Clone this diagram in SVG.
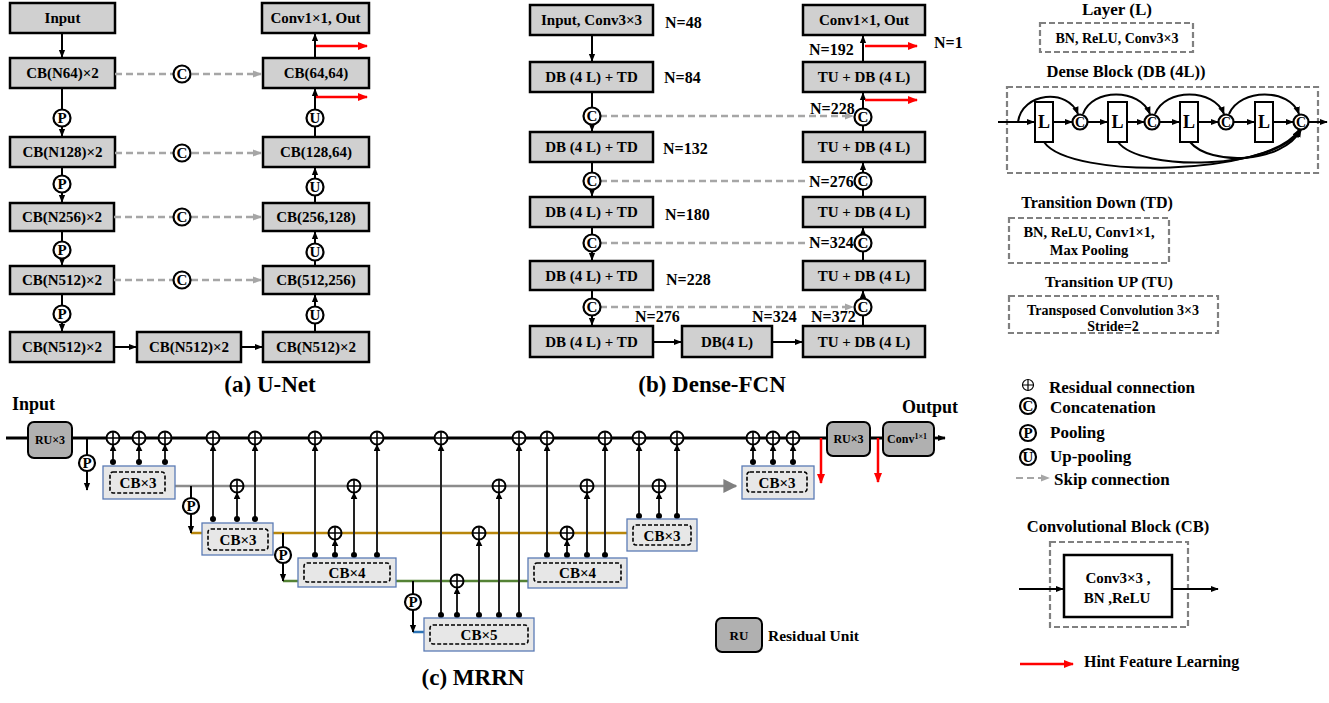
<svg xmlns="http://www.w3.org/2000/svg" width="1329" height="703" viewBox="0 0 1329 703">
<style>
text{font-family:"Liberation Serif","Times New Roman",serif;font-weight:bold;fill:#000}
.bx{fill:#d0d0d0;stroke:#000;stroke-width:2.5}
.c15{font-size:15px;text-anchor:middle}
.n{font-size:16px}
.ln{stroke:#000;stroke-width:2;fill:none}
.sk{stroke:#a6a6a6;stroke-width:2.5;stroke-dasharray:7 4;fill:none}
.ci{fill:#fff;stroke:#000;stroke-width:2.2}
.cl{font-size:15px;text-anchor:middle}
.rd{stroke:#f00;stroke-width:2.5;fill:none}
.cb{fill:#e7e7e7;stroke:#5b7bb5;stroke-width:1.3}
.cbi{fill:none;stroke:#000;stroke-width:1.6;stroke-dasharray:4 2}
.ru{fill:#b0b0b0;stroke:#000;stroke-width:2}
.dg{fill:none;stroke:#808080;stroke-width:2.2;stroke-dasharray:6 3}
.vl{stroke:#222;stroke-width:2;fill:none}
.cap{font-size:23px;text-anchor:middle}
.lg{font-size:17px}
.m{text-anchor:middle}
</style>
<defs>
<marker id="a" viewBox="0 0 10 10" refX="9" refY="5" markerWidth="8" markerHeight="8" markerUnits="userSpaceOnUse" orient="auto"><path d="M0,1L10,5L0,9z" fill="#000"/></marker>
<marker id="ag" viewBox="0 0 10 10" refX="9" refY="5" markerWidth="9" markerHeight="9" markerUnits="userSpaceOnUse" orient="auto"><path d="M0,1L10,5L0,9z" fill="#a6a6a6"/></marker>
<marker id="ar" viewBox="0 0 10 10" refX="9" refY="5" markerWidth="10" markerHeight="10" markerUnits="userSpaceOnUse" orient="auto"><path d="M0,1L10,5L0,9z" fill="#f00"/></marker>
<marker id="agr" viewBox="0 0 10 10" refX="9" refY="5" markerWidth="14" markerHeight="14" markerUnits="userSpaceOnUse" orient="auto"><path d="M0,0L10,5L0,10z" fill="#808080"/></marker>
<marker id="as" viewBox="0 0 10 10" refX="9" refY="5" markerWidth="7" markerHeight="7" markerUnits="userSpaceOnUse" orient="auto"><path d="M0,0L10,5L0,10z" fill="#000"/></marker>
<g id="pl"><circle r="6.5" fill="#fff" stroke="#000" stroke-width="2"/><path d="M-6.5,0H6.5M0,-6.5V6.5" stroke="#000" stroke-width="1.6"/></g>
</defs>

<!-- ========== (a) U-Net ========== -->
<g id="unet-input"><rect class="bx" x="10" y="3" width="105" height="30"/><text class="c15" x="62.5" y="23">Input</text></g>
<g id="unet-out"><rect class="bx" x="262" y="3" width="107" height="30"/><text class="c15" x="315.5" y="23">Conv1×1, Out</text></g>
<g id="unet-e1"><rect class="bx" x="10" y="58" width="105" height="30"/><text class="c15" x="62.5" y="78">CB(N64)×2</text></g>
<g id="unet-d1"><rect class="bx" x="263" y="58" width="106" height="30"/><text class="c15" x="316" y="78">CB(64,64)</text></g>
<g id="unet-e2"><rect class="bx" x="10" y="137" width="105" height="30"/><text class="c15" x="62.5" y="157">CB(N128)×2</text></g>
<g id="unet-d2"><rect class="bx" x="263" y="137" width="106" height="30"/><text class="c15" x="316" y="157">CB(128,64)</text></g>
<g id="unet-e3"><rect class="bx" x="10" y="203" width="104" height="28"/><text class="c15" x="62" y="222">CB(N256)×2</text></g>
<g id="unet-d3"><rect class="bx" x="263" y="203" width="106" height="28"/><text class="c15" x="316" y="222">CB(256,128)</text></g>
<g id="unet-e4"><rect class="bx" x="10" y="266" width="104" height="28"/><text class="c15" x="62" y="285">CB(N512)×2</text></g>
<g id="unet-d4"><rect class="bx" x="263" y="266" width="106" height="28"/><text class="c15" x="316" y="285">CB(512,256)</text></g>
<g id="unet-b1"><rect class="bx" x="10" y="332" width="104" height="30"/><text class="c15" x="62" y="352">CB(N512)×2</text></g>
<g id="unet-b2"><rect class="bx" x="137" y="332" width="104" height="30"/><text class="c15" x="189" y="352">CB(N512)×2</text></g>
<g id="unet-b3"><rect class="bx" x="263" y="332" width="106" height="30"/><text class="c15" x="316" y="352">CB(N512)×2</text></g>

<g id="unet-connectors">
<path class="ln" d="M62,33V57" marker-end="url(#a)"/>
<path class="ln" d="M62,88V110"/>
<path class="ln" d="M62,127V136" marker-end="url(#a)"/>
<path class="ln" d="M62,167V176"/><path class="ln" d="M62,193V202" marker-end="url(#a)"/>
<path class="ln" d="M62,231V242"/><path class="ln" d="M62,259V265" marker-end="url(#a)"/>
<path class="ln" d="M62,294V306"/><path class="ln" d="M62,323V331" marker-end="url(#a)"/>
<path class="ln" d="M114,347H136" marker-end="url(#a)"/>
<path class="ln" d="M241,347H262" marker-end="url(#a)"/>
<path class="ln" d="M315,332V324"/><path class="ln" d="M315,306V295" marker-end="url(#a)"/>
<path class="ln" d="M315,266V261"/><path class="ln" d="M315,243V232" marker-end="url(#a)"/>
<path class="ln" d="M315,203V196"/><path class="ln" d="M315,178V168" marker-end="url(#a)"/>
<path class="ln" d="M315,137V127"/><path class="ln" d="M315,109V89" marker-end="url(#a)"/>
<path class="ln" d="M315,58V34" marker-end="url(#a)"/>
<path class="sk" d="M115,74H261" marker-end="url(#ag)"/>
<path class="sk" d="M115,153H261" marker-end="url(#ag)"/>
<path class="sk" d="M114,217H261" marker-end="url(#ag)"/>
<path class="sk" d="M114,280H261" marker-end="url(#ag)"/>
<path class="rd" d="M316,46H367" marker-end="url(#ar)"/>
<path class="rd" d="M316,97H367" marker-end="url(#ar)"/>
</g>
<g id="unet-ops">
<circle class="ci" cx="62" cy="118" r="8.5"/><text class="cl" x="62" y="123">P</text>
<circle class="ci" cx="62" cy="184" r="8.5"/><text class="cl" x="62" y="189">P</text>
<circle class="ci" cx="62" cy="250" r="8.5"/><text class="cl" x="62" y="255">P</text>
<circle class="ci" cx="62" cy="314" r="8.5"/><text class="cl" x="62" y="319">P</text>
<circle class="ci" cx="315" cy="118" r="8.5"/><text class="cl" x="315" y="123">U</text>
<circle class="ci" cx="315" cy="187" r="8.5"/><text class="cl" x="315" y="192">U</text>
<circle class="ci" cx="315" cy="252" r="8.5"/><text class="cl" x="315" y="257">U</text>
<circle class="ci" cx="315" cy="315" r="8.5"/><text class="cl" x="315" y="320">U</text>
<circle class="ci" cx="182" cy="74" r="8.5"/><text class="cl" x="182" y="79">C</text>
<circle class="ci" cx="182" cy="153" r="8.5"/><text class="cl" x="182" y="158">C</text>
<circle class="ci" cx="182" cy="217" r="8.5"/><text class="cl" x="182" y="222">C</text>
<circle class="ci" cx="182" cy="280" r="8.5"/><text class="cl" x="182" y="285">C</text>
</g>
<text class="cap" x="270" y="392">(a) U-Net</text>

<!-- ========== (b) Dense-FCN ========== -->
<g id="dfcn-input"><rect class="bx" x="530" y="5" width="123" height="30"/><text class="c15" x="591.5" y="25">Input, Conv3×3</text></g>
<g id="dfcn-out"><rect class="bx" x="803" y="5" width="122" height="30"/><text class="c15" x="864" y="25">Conv1×1, Out</text></g>
<g id="dfcn-e1"><rect class="bx" x="530" y="62" width="123" height="30"/><text class="c15" x="591.5" y="82">DB (4 L) + TD</text></g>
<g id="dfcn-e2"><rect class="bx" x="530" y="132" width="123" height="30"/><text class="c15" x="591.5" y="152">DB (4 L) + TD</text></g>
<g id="dfcn-e3"><rect class="bx" x="530" y="197" width="123" height="30"/><text class="c15" x="591.5" y="217">DB (4 L) + TD</text></g>
<g id="dfcn-e4"><rect class="bx" x="530" y="261" width="123" height="29"/><text class="c15" x="591.5" y="280.5">DB (4 L) + TD</text></g>
<g id="dfcn-e5"><rect class="bx" x="530" y="326" width="123" height="31"/><text class="c15" x="591.5" y="346.5">DB (4 L) + TD</text></g>
<g id="dfcn-mid"><rect class="bx" x="682" y="326" width="90" height="31"/><text class="c15" x="727" y="346.5">DB(4 L)</text></g>
<g id="dfcn-d1"><rect class="bx" x="803" y="62" width="122" height="30"/><text class="c15" x="864" y="82">TU + DB (4 L)</text></g>
<g id="dfcn-d2"><rect class="bx" x="803" y="132" width="122" height="30"/><text class="c15" x="864" y="152">TU + DB (4 L)</text></g>
<g id="dfcn-d3"><rect class="bx" x="803" y="197" width="122" height="30"/><text class="c15" x="864" y="217">TU + DB (4 L)</text></g>
<g id="dfcn-d4"><rect class="bx" x="803" y="261" width="122" height="29"/><text class="c15" x="864" y="280.5">TU + DB (4 L)</text></g>
<g id="dfcn-d5"><rect class="bx" x="803" y="326" width="122" height="31"/><text class="c15" x="864" y="346.5">TU + DB (4 L)</text></g>

<g id="dfcn-connectors">
<path class="ln" d="M592,35V61" marker-end="url(#a)"/>
<path class="ln" d="M592,92V108"/><path class="ln" d="M592,125V131" marker-end="url(#a)"/>
<path class="ln" d="M592,162V173"/><path class="ln" d="M592,190V196" marker-end="url(#a)"/>
<path class="ln" d="M592,227V235"/><path class="ln" d="M592,252V260" marker-end="url(#a)"/>
<path class="ln" d="M592,290V299"/><path class="ln" d="M592,316V325" marker-end="url(#a)"/>
<path class="ln" d="M653,342H681" marker-end="url(#a)"/>
<path class="ln" d="M772,342H802" marker-end="url(#a)"/>
<path class="ln" d="M863,326V316"/><path class="ln" d="M863,299V291" marker-end="url(#a)"/>
<path class="ln" d="M863,261V252"/><path class="ln" d="M863,235V228" marker-end="url(#a)"/>
<path class="ln" d="M863,197V190"/><path class="ln" d="M863,173V163" marker-end="url(#a)"/>
<path class="ln" d="M863,132V126"/><path class="ln" d="M863,109V93" marker-end="url(#a)"/>
<path class="ln" d="M863,62V36" marker-end="url(#a)"/>
<path class="sk" d="M600,116H853" marker-end="url(#ag)"/>
<path class="sk" d="M600,181H808"/>
<path class="sk" d="M600,243H808"/>
<path class="sk" d="M600,307H853" marker-end="url(#ag)"/>
<path class="rd" d="M865,46H917" marker-end="url(#ar)"/>
<path class="rd" d="M865,100H917" marker-end="url(#ar)"/>
</g>
<g id="dfcn-ops">
<circle class="ci" cx="592" cy="116" r="8.5"/><text class="cl" x="592" y="121">C</text>
<circle class="ci" cx="592" cy="181" r="8.5"/><text class="cl" x="592" y="186">C</text>
<circle class="ci" cx="592" cy="243" r="8.5"/><text class="cl" x="592" y="248">C</text>
<circle class="ci" cx="592" cy="307" r="8.5"/><text class="cl" x="592" y="312">C</text>
<circle class="ci" cx="863" cy="117" r="8.5"/><text class="cl" x="863" y="122">C</text>
<circle class="ci" cx="863" cy="181" r="8.5"/><text class="cl" x="863" y="186">C</text>
<circle class="ci" cx="863" cy="243" r="8.5"/><text class="cl" x="863" y="248">C</text>
<circle class="ci" cx="863" cy="307" r="8.5"/><text class="cl" x="863" y="312">C</text>
</g>
<g id="dfcn-labels">
<text class="n" x="665" y="28">N=48</text>
<text class="n" x="664" y="83">N=84</text>
<text class="n" x="663" y="154">N=132</text>
<text class="n" x="665" y="220">N=180</text>
<text class="n" x="666" y="285">N=228</text>
<text class="n" x="635" y="322">N=276</text>
<text class="n" x="752" y="322">N=324</text>
<text class="n" x="811" y="322">N=372</text>
<text class="n" x="809" y="248">N=324</text>
<text class="n" x="809" y="187">N=276</text>
<text class="n" x="810" y="114">N=228</text>
<text class="n" x="809" y="55">N=192</text>
<text class="n" x="934" y="48">N=1</text>
</g>
<text class="cap" x="712" y="392">(b) Dense-FCN</text>

<!-- ========== Right legends (L, DB, TD, TU) ========== -->
<g id="leg-layer">
<text class="m" x="1117" y="15" style="font-size:17px">Layer (L)</text>
<rect class="dg" x="1040" y="23" width="153" height="29"/>
<text class="m" x="1117" y="43" style="font-size:14px">BN, ReLU, Conv3×3</text>
</g>
<g id="leg-db">
<text class="m" x="1126" y="77" style="font-size:16.5px">Dense Block (DB (4L))</text>
<rect class="dg" x="1007" y="87" width="311" height="86"/>
<path class="ln" d="M998,122H1034" marker-end="url(#a)"/>
<rect x="1035" y="102" width="18" height="40" fill="#fff" stroke="#000" stroke-width="2"/><text class="m" x="1044" y="128" style="font-size:18px">L</text>
<path class="ln" d="M1053,122H1072" marker-end="url(#a)"/>
<circle class="ci" cx="1080" cy="122" r="7.5"/><text class="m" x="1080" y="127" style="font-size:14px">C</text>
<path class="ln" d="M1088,122H1107" marker-end="url(#a)"/>
<rect x="1108" y="102" width="19" height="40" fill="#fff" stroke="#000" stroke-width="2"/><text class="m" x="1117.5" y="128" style="font-size:18px">L</text>
<path class="ln" d="M1127,122H1144" marker-end="url(#a)"/>
<circle class="ci" cx="1152" cy="122" r="7.5"/><text class="m" x="1152" y="127" style="font-size:14px">C</text>
<path class="ln" d="M1160,122H1179" marker-end="url(#a)"/>
<rect x="1180" y="102" width="18" height="40" fill="#fff" stroke="#000" stroke-width="2"/><text class="m" x="1189" y="128" style="font-size:18px">L</text>
<path class="ln" d="M1198,122H1218" marker-end="url(#a)"/>
<circle class="ci" cx="1226" cy="122" r="7.5"/><text class="m" x="1226" y="127" style="font-size:14px">C</text>
<path class="ln" d="M1234,122H1254" marker-end="url(#a)"/>
<rect x="1255" y="102" width="18" height="40" fill="#fff" stroke="#000" stroke-width="2"/><text class="m" x="1264" y="128" style="font-size:18px">L</text>
<path class="ln" d="M1273,122H1293" marker-end="url(#a)"/>
<circle class="ci" cx="1301" cy="122" r="7.5"/><text class="m" x="1301" y="127" style="font-size:14px">C</text>
<path class="ln" d="M1309,122H1327" marker-end="url(#a)"/>
<path class="ln" d="M1018,122C1022,92 1068,88 1078,114" marker-end="url(#a)"/>
<path class="ln" d="M1083,114C1092,88 1140,88 1150,114" marker-end="url(#a)"/>
<path class="ln" d="M1155,114C1165,88 1214,88 1224,114" marker-end="url(#a)"/>
<path class="ln" d="M1229,114C1240,88 1290,88 1299,114" marker-end="url(#a)"/>
<path class="ln" d="M1044,142C1070,180 1270,176 1299,130" marker-end="url(#a)"/>
<path class="ln" d="M1118,142C1140,172 1275,170 1300,130" marker-end="url(#a)"/>
<path class="ln" d="M1190,142C1210,166 1282,164 1301,130" marker-end="url(#a)"/>
</g>
<g id="leg-td">
<text class="m" x="1097" y="208" style="font-size:16px">Transition  Down (TD)</text>
<rect class="dg" x="1009" y="218" width="160" height="45"/>
<text class="m" x="1089" y="237" style="font-size:14.5px">BN, ReLU, Conv1×1,</text>
<text class="m" x="1089" y="255" style="font-size:14.5px">Max Pooling</text>
</g>
<g id="leg-tu">
<text class="m" x="1109" y="287" style="font-size:15.5px">Transition  UP (TU)</text>
<rect class="dg" x="1009" y="296" width="209" height="37"/>
<text class="m" x="1113" y="315" style="font-size:14px">Transposed Convolution 3×3</text>
<text class="m" x="1113" y="331" style="font-size:14px">Stride=2</text>
</g>

<!-- ========== Symbol legend ========== -->
<g id="leg-symbols">
<circle cx="1028" cy="385" r="5.5" fill="#fff" stroke="#000" stroke-width="1.2"/><path d="M1022.5,385H1033.5M1028,379.5V390.5" stroke="#000" stroke-width="1.2"/>
<text class="lg" x="1049" y="393">Residual connection</text>
<circle class="ci" cx="1028" cy="406" r="8"/><text class="cl" x="1028" y="411">C</text>
<text class="lg" x="1050" y="413">Concatenation</text>
<circle class="ci" cx="1028" cy="433" r="8"/><text class="cl" x="1028" y="438">P</text>
<text class="lg" x="1050" y="438">Pooling</text>
<circle class="ci" cx="1028" cy="457" r="8"/><text class="cl" x="1028" y="462">U</text>
<text class="lg" x="1050" y="462">Up-pooling</text>
<path class="sk" d="M1016,478H1049" marker-end="url(#ag)" style="stroke-width:2"/>
<text class="lg" x="1054" y="485">Skip connection</text>
</g>
<g id="leg-cb">
<text class="m" x="1118" y="532" style="font-size:16.5px">Convolutional  Block (CB)</text>
<rect class="dg" x="1050" y="542" width="138" height="85"/>
<rect x="1064" y="555" width="108" height="62" fill="#fff" stroke="#000" stroke-width="2.5"/>
<text class="m" x="1118" y="583" style="font-size:15px">Conv3×3 ,</text>
<text class="m" x="1117" y="603" style="font-size:15px">BN ,ReLU</text>
<path class="ln" d="M1019,589H1063" marker-end="url(#a)"/>
<path class="ln" d="M1172,589H1218" marker-end="url(#a)"/>
</g>
<g id="leg-hint">
<path class="rd" d="M1020,664H1073" marker-end="url(#ar)"/>
<text x="1084" y="667" style="font-size:16px">Hint  Feature Learning</text>
</g>
<g id="leg-ru">
<rect class="ru" x="716" y="618" width="46" height="34" rx="6"/><text class="m" x="739" y="640" style="font-size:13px">RU</text>
<text x="768" y="641" style="font-size:15.5px">Residual  Unit</text>
</g>

<!-- ========== (c) MRRN ========== -->
<text x="12" y="410" style="font-size:18px">Input</text>
<text x="902" y="413" style="font-size:18px">Output</text>
<g id="mrrn-connectors">
<path d="M6,438H827M870,438H883" stroke="#000" stroke-width="2.8" fill="none"/>
<path d="M934,438H945" stroke="#000" stroke-width="2.8" fill="none" marker-end="url(#a)"/>
<path d="M175,486H736" stroke="#8c8c8c" stroke-width="2.5" fill="none" marker-end="url(#agr)"/>
<path d="M191,533H202M273,533H627" stroke="#b8860b" stroke-width="2.5" fill="none"/>
<path d="M283,581H298M396,581H528" stroke="#548235" stroke-width="2.5" fill="none"/>
<path d="M413,632H424" stroke="#2e75b6" stroke-width="2.5" fill="none"/>
<path class="ln" d="M87,438V455"/><path class="ln" d="M87,471V490" marker-end="url(#a)"/>
<path class="ln" d="M191,486V498"/><path class="ln" d="M191,514V533" marker-end="url(#a)"/>
<path class="ln" d="M283,533V547"/><path class="ln" d="M283,563V581" marker-end="url(#a)"/>
<path class="ln" d="M413,581V594"/><path class="ln" d="M413,610V632" marker-end="url(#a)"/>
<path class="rd" d="M821,438V483" marker-end="url(#ar)"/>
<path class="rd" d="M878,438V482" marker-end="url(#ar)"/>
<g class="vl">
<path d="M113,462V445" marker-end="url(#as)"/><path d="M139,462V445" marker-end="url(#as)"/><path d="M165,462V445" marker-end="url(#as)"/>
<path d="M213,519V445" marker-end="url(#as)"/><path d="M255,519V445" marker-end="url(#as)"/><path d="M237,519V493" marker-end="url(#as)"/>
<path d="M315,555V445" marker-end="url(#as)"/><path d="M377,555V445" marker-end="url(#as)"/><path d="M354,555V493" marker-end="url(#as)"/><path d="M335,555V540" marker-end="url(#as)"/>
<path d="M441,615V445" marker-end="url(#as)"/><path d="M519,615V445" marker-end="url(#as)"/><path d="M499,615V493" marker-end="url(#as)"/><path d="M479,615V540" marker-end="url(#as)"/><path d="M457,615V588" marker-end="url(#as)"/>
<path d="M547,555V445" marker-end="url(#as)"/><path d="M605,555V445" marker-end="url(#as)"/><path d="M587,555V493" marker-end="url(#as)"/><path d="M567,555V540" marker-end="url(#as)"/>
<path d="M639,516V445" marker-end="url(#as)"/><path d="M677,516V445" marker-end="url(#as)"/><path d="M659,516V493" marker-end="url(#as)"/>
<path d="M753,462V445" marker-end="url(#as)"/><path d="M773,462V445" marker-end="url(#as)"/><path d="M793,462V445" marker-end="url(#as)"/>
</g>
<g fill="#000">
<circle cx="113" cy="462" r="3"/><circle cx="139" cy="462" r="3"/><circle cx="165" cy="462" r="3"/>
<circle cx="213" cy="519" r="3"/><circle cx="237" cy="519" r="3"/><circle cx="255" cy="519" r="3"/>
<circle cx="315" cy="555" r="3"/><circle cx="335" cy="555" r="3"/><circle cx="354" cy="555" r="3"/><circle cx="377" cy="555" r="3"/>
<circle cx="441" cy="615" r="3"/><circle cx="457" cy="615" r="3"/><circle cx="479" cy="615" r="3"/><circle cx="499" cy="615" r="3"/><circle cx="519" cy="615" r="3"/>
<circle cx="547" cy="555" r="3"/><circle cx="567" cy="555" r="3"/><circle cx="587" cy="555" r="3"/><circle cx="605" cy="555" r="3"/>
<circle cx="639" cy="516" r="3"/><circle cx="659" cy="516" r="3"/><circle cx="677" cy="516" r="3"/>
<circle cx="753" cy="462" r="3"/><circle cx="773" cy="462" r="3"/><circle cx="793" cy="462" r="3"/>
</g>
<use href="#pl" x="113" y="438"/><use href="#pl" x="139" y="438"/><use href="#pl" x="165" y="438"/>
<use href="#pl" x="213" y="438"/><use href="#pl" x="255" y="438"/><use href="#pl" x="315" y="438"/>
<use href="#pl" x="377" y="438"/><use href="#pl" x="441" y="438"/><use href="#pl" x="519" y="438"/>
<use href="#pl" x="547" y="438"/><use href="#pl" x="605" y="438"/><use href="#pl" x="639" y="438"/>
<use href="#pl" x="677" y="438"/><use href="#pl" x="753" y="438"/><use href="#pl" x="773" y="438"/><use href="#pl" x="793" y="438"/>
<use href="#pl" x="237" y="486"/><use href="#pl" x="354" y="486"/><use href="#pl" x="499" y="486"/><use href="#pl" x="587" y="486"/><use href="#pl" x="659" y="486"/>
<use href="#pl" x="335" y="533"/><use href="#pl" x="479" y="533"/><use href="#pl" x="567" y="533"/>
<use href="#pl" x="457" y="581"/>
<circle class="ci" cx="87" cy="463" r="8"/><text class="cl" x="87" y="468">P</text>
<circle class="ci" cx="191" cy="506" r="8"/><text class="cl" x="191" y="511">P</text>
<circle class="ci" cx="283" cy="555" r="8"/><text class="cl" x="283" y="560">P</text>
<circle class="ci" cx="413" cy="602" r="8"/><text class="cl" x="413" y="607">P</text>
</g>
<g id="mrrn-ru1"><rect class="ru" x="28" y="422" width="44" height="36" rx="6"/><text class="m" x="50" y="444" style="font-size:12px">RU×3</text></g>
<g id="mrrn-ru2"><rect class="ru" x="827" y="422" width="43" height="34" rx="6"/><text class="m" x="848.5" y="443" style="font-size:12px">RU×3</text></g>
<g id="mrrn-conv"><rect class="ru" x="883" y="422" width="51" height="34" rx="6"/><text class="m" x="907" y="443" style="font-size:12px">Conv<tspan dy="-4" style="font-size:8px">1×1</tspan></text></g>
<g id="mrrn-cb1"><rect class="cb" x="103" y="466" width="72" height="33"/><rect class="cbi" x="110" y="472" width="55" height="21" rx="3"/><text class="m" x="138" y="488" style="font-size:15px">CB×3</text></g>
<g id="mrrn-cb2"><rect class="cb" x="202" y="523" width="71" height="32"/><rect class="cbi" x="208" y="529" width="60" height="21" rx="3"/><text class="m" x="238" y="545" style="font-size:15px">CB×3</text></g>
<g id="mrrn-cb3"><rect class="cb" x="298" y="558" width="98" height="29"/><rect class="cbi" x="304" y="563" width="86" height="19" rx="3"/><text class="m" x="347" y="578" style="font-size:15px">CB×4</text></g>
<g id="mrrn-cb4"><rect class="cb" x="424" y="618" width="110" height="33"/><rect class="cbi" x="430" y="625" width="98" height="19" rx="3"/><text class="m" x="479" y="640" style="font-size:15px">CB×5</text></g>
<g id="mrrn-cb5"><rect class="cb" x="528" y="558" width="99" height="30"/><rect class="cbi" x="534" y="563" width="87" height="19" rx="3"/><text class="m" x="577.5" y="578" style="font-size:15px">CB×4</text></g>
<g id="mrrn-cb6"><rect class="cb" x="627" y="519" width="70" height="32"/><rect class="cbi" x="633" y="525" width="58" height="20" rx="3"/><text class="m" x="662" y="541" style="font-size:15px">CB×3</text></g>
<g id="mrrn-cb7"><rect class="cb" x="742" y="466" width="72" height="33"/><rect class="cbi" x="747" y="472" width="60" height="20" rx="3"/><text class="m" x="777" y="488" style="font-size:15px">CB×3</text></g>
<text class="cap" x="473" y="685">(c) MRRN</text>
</svg>
